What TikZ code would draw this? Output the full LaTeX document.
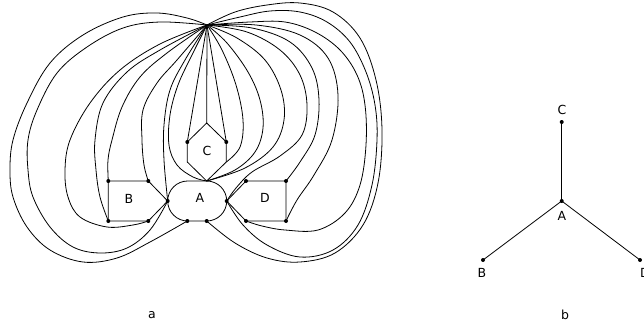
\documentclass[tikz,border=0pt]{standalone}
\usepackage{fontspec}
\setmainfont{DejaVu Sans}
\begin{document}
\begin{tikzpicture}[x=1pt,y=-1pt,line width=0.8pt,
  crv/.style={smooth,tension=0.6},
  lab/.style={font=\fontsize{12.5}{14}\selectfont,inner sep=0pt}]
\useasboundingbox (0,0) rectangle (644,326);
% vertices
\coordinate (P) at (207,25);
\coordinate (Ctop) at (206.7,123);
\coordinate (Cul) at (187.3,142);
\coordinate (Cll) at (187.3,162);
\coordinate (Cur) at (226.3,142);
\coordinate (Clr) at (226.3,162);
\coordinate (Atop) at (206.7,181);
\coordinate (Al) at (167.7,201);
\coordinate (Ar) at (226.7,201);
\coordinate (Abl) at (187.3,221);
\coordinate (Abr) at (206.7,221);
\coordinate (ANW) at (167.7,181);
\coordinate (ASE) at (226.7,221);
\coordinate (Btl) at (108.3,181);
\coordinate (Btr) at (148.3,181);
\coordinate (Bbl) at (108.3,221);
\coordinate (Bbr) at (148.3,221);
\coordinate (Dtl) at (246,181);
\coordinate (Dtr) at (286,181);
\coordinate (Dbl) at (246,221);
\coordinate (Dbr) at (286,221);
% faces
\draw[rounded corners=20pt] (ANW) rectangle (ASE);
\draw (Ctop) -- (Cul) -- (Cll) -- (Atop) -- (Clr) -- (Cur) -- cycle;
\draw (Btl) -- (Btr) -- (Al) -- (Bbr) -- (Bbl) -- cycle;
\draw (Dtl) -- (Dtr) -- (Dbr) -- (Dbl) -- (Ar) -- cycle;
% straight edges from P
\draw (P) -- (Ctop);
\draw (P) -- (Cul);
\draw (P) -- (Cur);
% left curves
\draw plot[crv] coordinates {(P) (187,18) (157,13) (123,17) (83,35) (50,63) (27,103) (13,140) (10,170) (13,197) (27,227) (50,250) (83,262) (117,258) (150,242) (Abl)};
\draw plot[crv] coordinates {(P) (160,22) (123,28) (87,47) (57,73) (37,110) (28,140) (28,170) (33,197) (50,227) (73,247) (100,253) (127,248) (150,230) (Al)};
\draw plot[crv] coordinates {(P) (160,44) (120,70) (90,103) (70,140) (65,170) (68,197) (80,217) (107,227) (133,225) (Bbr)};
\draw plot[crv] coordinates {(P) (160,50) (127,72) (103,103) (95,140) (96,170) (100,197) (Bbl)};
\draw plot[crv] coordinates {(P) (167,53) (140,77) (122,107) (112,140) (108,160) (Btl)};
\draw plot[crv] coordinates {(P) (177,60) (157,83) (143,110) (142,140) (144,165) (Btr)};
\draw plot[crv] coordinates {(P) (185,60) (170,90) (164,125) (164,160) (Al)};
\draw plot[crv] coordinates {(P) (192,55) (178,85) (170,115) (169,145) (177,165) (193,177) (Atop)};
% right curves
\draw plot[crv] coordinates {(P) (222,50) (236,85) (243,120) (240,147) (Clr)};
\draw plot[crv] coordinates {(P) (227,43) (248,72) (260,100) (263,128) (255,152) (235,170) (Atop)};
\draw plot[crv] coordinates {(P) (237,38) (265,60) (281,90) (284,120) (273,147) (245,168) (Atop)};
\draw plot[crv] coordinates {(P) (247,32) (280,50) (300,75) (307,105) (302,135) (280,156) (252,172) (236,188) (Ar)};
\draw plot[crv] coordinates {(P) (252,28) (290,42) (312,68) (319,100) (315,135) (300,162) (Dtr)};
\draw plot[crv] coordinates {(P) (256,25) (300,35) (328,58) (338,95) (332,140) (314,175) (297,200) (Dbr)};
\draw plot[crv] coordinates {(P) (250,22) (285,22) (315,32) (340,50) (357,75) (365,105) (366,145) (360,185) (345,213) (318,230) (285,230) (262,226) (Dbl)};
\draw plot[crv] coordinates {(P) (240,17) (270,11) (300,12) (327,22) (350,42) (366,72) (375,105) (377,140) (372,185) (358,225) (333,250) (300,257) (267,245) (243,225) (Ar)};
\draw plot[crv] coordinates {(P) (235,12) (267,5) (300,3) (333,12) (360,38) (376,80) (382,130) (378,183) (363,225) (335,253) (300,262) (267,258) (235,243) (Abr)};
% dots
\foreach \v in {Cul,Cur,Al,Ar,Abl,Abr,Btl,Btr,Bbl,Bbr,Dtl,Dtr,Dbl,Dbr}
  \fill (\v) circle (2pt);
% labels
\node[lab] (labA) at (200,198) {A};
\node[lab] (labB) at (129,199) {B};
\node[lab] (labC) at (207,151) {C};
\node[lab] (labD) at (265,198) {D};
% graph b
\coordinate (bA) at (561.7,201);
\coordinate (bB) at (483,260);
\coordinate (bC) at (561.7,122);
\coordinate (bD) at (640,260);
\draw (bA) -- (bC);
\draw (bA) -- (bB);
\draw (bA) -- (bD);
\foreach \v in {bA,bB,bC,bD} \fill (\v) circle (2pt);
\node[lab] (lbC) at (562,110) {C};
\node[lab] (lbA) at (562,216) {A};
\node[lab] (lbB) at (482,273) {B};
\node[lab] (lbD) at (645,273) {D};
\node[lab] (capa) at (152,315) {a};
\node[lab] (capb) at (565,315) {b};
\end{tikzpicture}
\end{document}
